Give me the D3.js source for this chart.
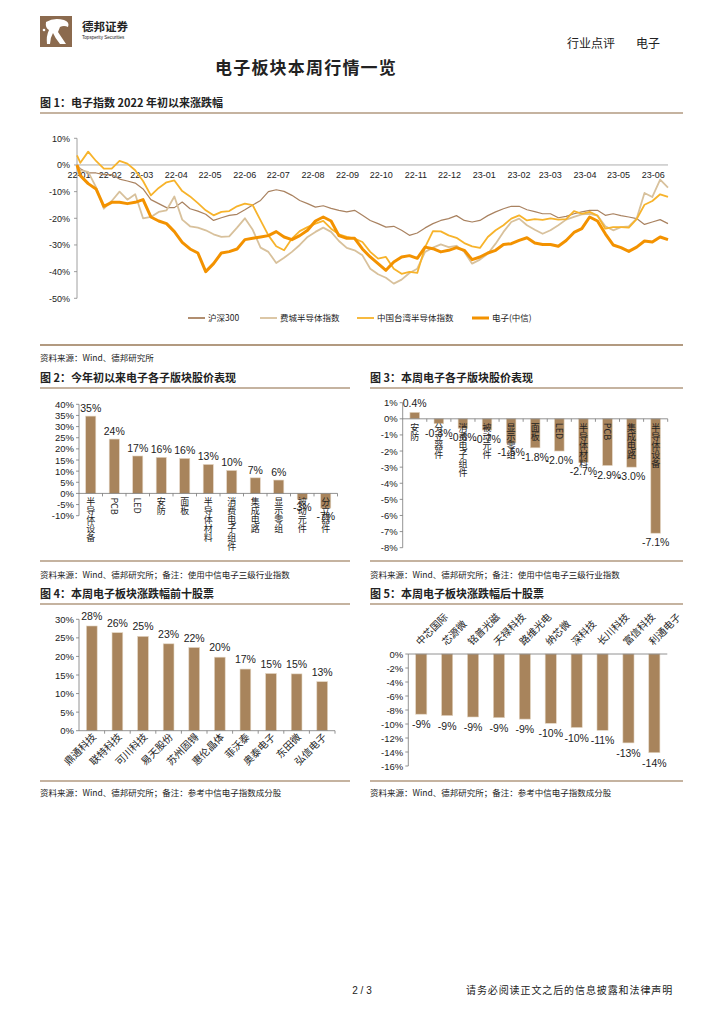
<!DOCTYPE html>
<html><head><meta charset="utf-8">
<script src="https://cdn.jsdelivr.net/npm/d3@7"></script>
<style>
body{margin:0;background:#fff;}
svg{display:block;}
text{font-family:"Liberation Sans",Arial,sans-serif;fill:#222;}
.cjk{font-family:"Noto Sans CJK SC","Noto Sans",sans-serif;}
</style></head><body>
<svg id="c" width="724" height="1024"></svg>
<script>
// ---------- DATA ----------
const lineDates = ["2022-01-04","2022-01-07","2022-01-14","2022-01-21","2022-01-28","2022-02-04","2022-02-11","2022-02-18","2022-02-25","2022-03-04","2022-03-11","2022-03-18","2022-03-25","2022-04-01","2022-04-08","2022-04-15","2022-04-22","2022-04-29","2022-05-06","2022-05-13","2022-05-20","2022-05-27","2022-06-03","2022-06-10","2022-06-17","2022-06-24","2022-07-01","2022-07-08","2022-07-15","2022-07-22","2022-07-29","2022-08-05","2022-08-12","2022-08-19","2022-08-26","2022-09-02","2022-09-09","2022-09-16","2022-09-23","2022-09-30","2022-10-07","2022-10-14","2022-10-21","2022-10-28","2022-11-04","2022-11-11","2022-11-18","2022-11-25","2022-12-02","2022-12-09","2022-12-16","2022-12-23","2022-12-30","2023-01-06","2023-01-13","2023-01-20","2023-01-27","2023-02-03","2023-02-10","2023-02-17","2023-02-24","2023-03-03","2023-03-10","2023-03-17","2023-03-24","2023-03-31","2023-04-07","2023-04-14","2023-04-21","2023-04-28","2023-05-05","2023-05-12","2023-05-19","2023-05-26","2023-06-02","2023-06-09","2023-06-16"];
const hs300 = [0,-1.4,-3,-3,-3.6,-3.6,-5.3,-6,-6.8,-9,-13,-14.5,-16,-16,-13.9,-16.4,-17.3,-18.5,-20.8,-19.8,-18.9,-18.5,-16.8,-15,-13.3,-10,-9.3,-9.9,-11.4,-13.3,-14.5,-15.8,-15.3,-16.3,-17,-17.6,-17,-18.9,-20.8,-22,-23.3,-23,-24.5,-26.4,-25.5,-23.6,-22,-20.8,-20.1,-19,-20.8,-21.4,-20.8,-19,-17.6,-16.4,-15.5,-15.5,-16.8,-17.5,-18.3,-18.3,-19.8,-19.3,-18.3,-17.6,-17,-17,-18.9,-18.3,-19,-19.5,-20.1,-22.3,-21.4,-20.5,-22];
const sox = [0,-2,-2.6,-8.3,-16.4,-13.5,-10,-13,-11,-20,-19.5,-17.6,-17,-11.8,-20.5,-23,-23.5,-24.5,-26,-27,-26.8,-23.5,-20,-24.3,-31,-32.6,-36.8,-34.8,-32.6,-30,-27,-25.1,-23.5,-25.1,-28.5,-31.1,-32,-33.9,-38.9,-41,-42.3,-44.5,-43,-40.5,-38.9,-32.6,-31,-29.8,-30.8,-30.3,-32.6,-37,-35.5,-33.3,-29.5,-25.1,-21.4,-20.1,-22.6,-24.3,-25.8,-24.5,-22.6,-20.5,-19.5,-18.5,-18.3,-19,-23,-24.5,-23.3,-23,-20.1,-10.5,-12,-5.5,-8.5];
const taiwanSemi = [3.6,0.8,5,1.5,-1.4,-1.4,1.5,0.5,-2,-6,-11.4,-8.6,-6.5,-5.8,-9.8,-11.8,-14.3,-17,-18.9,-17.6,-17.3,-15.5,-14.5,-15.1,-20.8,-26.4,-30.5,-32,-27.6,-24.8,-23.3,-22,-21,-23.9,-26,-27,-27.6,-28.9,-32.6,-35.1,-34.5,-38.9,-40.8,-40.1,-40.5,-30.8,-24.8,-24.9,-26.4,-27.3,-29.3,-30.5,-31.1,-27,-24.5,-22.6,-20.1,-18.9,-20.8,-20.3,-20.6,-20,-20.5,-20.3,-17.3,-18.3,-17.6,-19,-23.9,-23.3,-23.3,-23.5,-20.3,-14.9,-13.5,-11,-12];
const electronics = [0,-4,-7,-9,-15.5,-14,-14,-14.5,-14,-13,-19.5,-21,-22,-25,-29,-31.5,-33,-40,-37,-33,-32.5,-31.5,-28,-27.5,-27,-26.5,-25,-27,-28,-26.5,-24.5,-21,-19.5,-21,-26.5,-27.5,-27.5,-31.5,-34.5,-37,-39.5,-36.4,-34.5,-34,-35,-30.8,-31.4,-32.6,-32,-31,-32,-35.5,-34.5,-33,-32,-29.8,-29.5,-28.3,-27.3,-29.3,-29.8,-29.8,-30.5,-28.3,-25.3,-23.9,-19.5,-21,-25.8,-30,-31,-32.4,-30.8,-28.5,-28.9,-27,-28];
const seriesNames = ["沪深300","费城半导体指数","中国台湾半导体指数","电子(中信)"];
const fig1YTicks = [10,0,-10,-20,-30,-40,-50];

const fig2Cats = ["半导体设备","PCB","LED","安防","面板","半导体材料","消费电子组件","集成电路","显示零组","被动元件","分立器件"];
const fig2Vals = [34.7,24.4,16.8,16.2,15.7,13.0,10.3,7.0,6.0,-2.6,-6.6];
const fig2YTicks = [40,35,30,25,20,15,10,5,0,-5,-10];

const fig3Cats = ["安防","分立器件","消费电子组件","被动元件","显示零组","面板","LED","半导体材料","PCB","集成电路","半导体设备"];
const fig3Vals = [0.4,-0.3,-0.6,-0.7,-1.5,-1.8,-2.0,-2.7,-2.9,-3.0,-7.1];
const fig3YTicks = [1,0,-1,-2,-3,-4,-5,-6,-7,-8];

const fig4Names = ["鼎通科技","联特科技","可川科技","易天股份","苏州固锝","惠伦晶体","菲沃泰","奥泰电子","东田微","弘信电子"];
const fig4Vals = [28.2,26.4,25.4,23.4,22.4,19.8,16.6,15.4,15.3,13.2];
const fig4YTicks = [30,25,20,15,10,5,0];

const fig5Names = ["中芯国际","芯源微","铭普光磁","天禄科技","路维光电","纳芯微","深科技","长川科技","富信科技","利通电子"];
const fig5Vals = [-8.6,-8.8,-9.0,-9.1,-9.3,-9.9,-10.5,-10.9,-12.7,-14.1];
const fig5YTicks = [0,-2,-4,-6,-8,-10,-12,-14,-16];

// ---------- DRAW ----------
const svg = d3.select("#c");
const BROWN = "#8B6A4C", BAR = "#A8845C", LINEC = "#B29A80";
const defs = svg.append("defs");
const g1 = defs.append("linearGradient").attr("id","hg").attr("x1","0").attr("x2","1");
g1.append("stop").attr("offset","0").attr("stop-color","#C4AD94");
g1.append("stop").attr("offset","0.5").attr("stop-color","#A2825F");
g1.append("stop").attr("offset","1").attr("stop-color","#9A7A58");

// header
svg.append("rect").attr("x",40).attr("y",16).attr("width",32).attr("height",31).attr("fill","#8B6A4E");
svg.append("path").attr("d","M46,22 Q54,17 64,20 Q70,22 68,27 Q64,25 60,27 L58,32 Q62,38 66,44 L60,44 Q55,38 53,33 Q50,38 50,44 L47,44 Q46,36 49,30 Q45,28 46,22 Z").attr("fill","#fff");
svg.append("circle").attr("cx",44).attr("cy",30).attr("r",1.3).attr("fill","#fff");
svg.append("text").attr("class","cjk").attr("x",82).attr("y",31).attr("font-size",11.5).attr("font-weight","bold").attr("fill","#6E5A48").text("德邦证券");
svg.append("text").attr("x",82).attr("y",39).attr("font-size",4.6).attr("fill","#6E5A48").text("Topsperity Securities");
svg.append("text").attr("class","cjk").attr("x",567).attr("y",48).attr("font-size",12).attr("fill","#333").text("行业点评");
svg.append("text").attr("class","cjk").attr("x",636).attr("y",48).attr("font-size",12).attr("fill","#333").text("电子");
svg.append("line").attr("x1",40).attr("x2",686).attr("y1",54).attr("y2",54).attr("stroke","url(#hg)").attr("stroke-width",3);
svg.append("text").attr("class","cjk").attr("x",306).attr("y",74).attr("text-anchor","middle").attr("font-size",17).attr("font-weight","bold").attr("letter-spacing",1.2).attr("fill","#8B5E3C").text("电子板块本周行情一览");

function title(x,y,t){
  svg.append("text").attr("class","cjk").attr("x",x).attr("y",y).attr("font-size",11).attr("font-weight","bold").attr("fill",BROWN).text(t);
}
function hline(x1,x2,y,w){
  svg.append("line").attr("x1",x1).attr("x2",x2).attr("y1",y).attr("y2",y).attr("stroke",LINEC).attr("stroke-width",w||1.6);
}
function source(x,y,t){
  svg.append("text").attr("class","cjk").attr("x",x).attr("y",y).attr("font-size",8.5).attr("fill","#333").text(t);
}

// ---------- FIG 1 ----------
title(40,107,"图 1：电子指数 2022 年初以来涨跌幅");
hline(40,683,113);
const parse = d3.timeParse("%Y-%m-%d");
const dts = lineDates.map(parse);
const x1 = d3.scaleTime().domain([dts[0], dts[dts.length-1]]).range([77,668]);
const y1 = d3.scaleLinear().domain([-50,10]).range([298.3,138.3]);
const f1 = svg.append("g");
f1.append("line").attr("x1",77).attr("x2",77).attr("y1",y1(10)).attr("y2",y1(-50)).attr("stroke","#888").attr("stroke-width",0.8);
fig1YTicks.forEach(t=>{
  f1.append("line").attr("x1",74).attr("x2",77).attr("y1",y1(t)).attr("y2",y1(t)).attr("stroke","#888").attr("stroke-width",0.8);
  f1.append("text").attr("x",70).attr("y",y1(t)+3.3).attr("text-anchor","end").attr("font-size",9).text(t+"%");
});
f1.append("line").attr("x1",77).attr("x2",668).attr("y1",y1(0)).attr("y2",y1(0)).attr("stroke","#999").attr("stroke-width",0.8);
const months = d3.timeMonth.range(new Date(2022,0,1), new Date(2023,6,1));
const fmt = d3.timeFormat("%y-%m");
months.forEach(m=>{
  const d = m < dts[0] ? dts[0] : m;
  f1.append("text").attr("x",x1(d)+2).attr("y",178).attr("text-anchor","middle").attr("font-size",9).text(fmt(m));
});
const allSeries = [
  {vals:hs300, color:"#A98260", w:1.2},
  {vals:sox, color:"#D8C19C", w:1.8},
  {vals:taiwanSemi, color:"#F7B32B", w:1.8},
  {vals:electronics, color:"#F39200", w:3}
];
const lineGen = d3.line().x((d,i)=>x1(dts[i])).y(d=>y1(d)).curve(d3.curveLinear);
allSeries.forEach(s=>{
  f1.append("path").attr("d",lineGen(s.vals)).attr("fill","none").attr("stroke",s.color).attr("stroke-width",s.w).attr("stroke-linejoin","round");
});
// legend
const legX = [188,260,357,472];
allSeries.forEach((s,i)=>{
  f1.append("line").attr("x1",legX[i]).attr("x2",legX[i]+17).attr("y1",318).attr("y2",318).attr("stroke",s.color).attr("stroke-width",s.w===3?3:1.8);
  f1.append("text").attr("class","cjk").attr("x",legX[i]+20).attr("y",321).attr("font-size",8.5).attr("fill","#333").text(seriesNames[i]);
});
hline(40,683,345,2);
source(40,361,"资料来源：Wind、德邦研究所");

// ---------- generic bar chart ----------
function barChart(o){
  const g = svg.append("g");
  const x = d3.scaleBand().domain(o.cats).range([o.x0,o.x1]).paddingInner(o.pad).paddingOuter(o.pad/2);
  const y = d3.scaleLinear().domain(o.ydom).range(o.yrange);
  // y axis
  g.append("line").attr("x1",o.x0).attr("x2",o.x0).attr("y1",o.yrange[1]).attr("y2",o.yrange[0]).attr("stroke","#777").attr("stroke-width",0.8);
  o.yticks.forEach(t=>{
    g.append("line").attr("x1",o.x0-3).attr("x2",o.x0).attr("y1",y(t)).attr("y2",y(t)).attr("stroke","#777").attr("stroke-width",0.8);
    g.append("text").attr("x",o.x0-5).attr("y",y(t)+3.5).attr("text-anchor","end").attr("font-size",9.5).text(t+"%");
  });
  // bars
  o.cats.forEach((c,i)=>{
    const v = o.vals[i];
    g.append("rect").attr("x",x(c)).attr("width",x.bandwidth())
      .attr("y",y(Math.max(0,v))).attr("height",Math.abs(y(v)-y(0)))
      .attr("fill",BAR).attr("stroke","#E3D5C2").attr("stroke-width",0.6);
  });
  // zero axis
  g.append("line").attr("x1",o.x0).attr("x2",o.x1).attr("y1",y(0)).attr("y2",y(0)).attr("stroke","#777").attr("stroke-width",0.8);
  if(o.catTicks){
    o.cats.forEach((c,i)=>{
      const xx = o.x0 + x.step()*(i+1);
      g.append("line").attr("x1",xx).attr("x2",xx).attr("y1",y(0)).attr("y2",y(0)+o.catTicks).attr("stroke","#777").attr("stroke-width",0.8);
    });
  }
  // value labels
  o.cats.forEach((c,i)=>{
    const v = o.vals[i];
    const cx = x(c)+x.bandwidth()/2;
    const ty = v>=0 ? y(v)-o.labOff : y(v)+o.labOff+8;
    g.append("text").attr("x",cx).attr("y",ty).attr("text-anchor","middle").attr("font-size",o.labSize).text(o.fmt(v));
  });
  // category labels
  o.cats.forEach((c,i)=>{
    const cx = x(c)+x.bandwidth()/2;
    if(o.catMode==="vertical"){
      g.append("text").attr("class","cjk").attr("x",cx).attr("y",y(0)+4)
        .attr("writing-mode","tb").style("writing-mode","vertical-rl")
        .attr("font-size",9).attr("fill","#333").text(c);
    } else if(o.catMode==="below45"){
      g.append("text").attr("class","cjk").attr("transform",`translate(${cx+5},${y(0)+7}) rotate(-45)`)
        .attr("text-anchor","end").attr("font-size",10).attr("fill","#222").text(c);
    } else {
      g.append("text").attr("class","cjk").attr("transform",`translate(${cx-1},${y(0)-8}) rotate(-45)`)
        .attr("text-anchor","start").attr("font-size",10).attr("fill","#222").text(c);
    }
  });
}

// ---------- FIG 2 ----------
title(40,382,"图 2：今年初以来电子各子版块股价表现");
hline(40,350,388);
barChart({cats:fig2Cats, vals:fig2Vals, yticks:fig2YTicks, x0:79, x1:337.5, pad:0.57,
  ydom:[-10,40], yrange:[515.7,404.3], labOff:4, labSize:10.5, fmt:v=>Math.round(v)+"%",
  catMode:"vertical", catTicks:3});
hline(40,350,561);
source(40,578,"资料来源：Wind、德邦研究所；备注：使用中信电子三级行业指数");

// ---------- FIG 3 ----------
title(370,382,"图 3：本周电子各子版块股价表现");
hline(370,683,388);
barChart({cats:fig3Cats, vals:fig3Vals, yticks:fig3YTicks, x0:402.7, x1:667.7, pad:0.6,
  ydom:[-8,1], yrange:[547.7,402.7], labOff:5, labSize:10.5, fmt:v=>v.toFixed(1)+"%",
  catMode:"vertical", catTicks:3});
hline(370,683,561);
source(370,578,"资料来源：Wind、德邦研究所；备注：使用中信电子三级行业指数");

// ---------- FIG 4 ----------
title(40,598,"图 4：本周电子板块涨跌幅前十股票");
hline(40,350,604);
barChart({cats:fig4Names, vals:fig4Vals, yticks:fig4YTicks, x0:79, x1:335, pad:0.58,
  ydom:[0,30], yrange:[730.7,619.3], labOff:6, labSize:10.5, fmt:v=>Math.round(v)+"%",
  catMode:"below45", catTicks:3});
hline(40,350,781);
source(40,796,"资料来源：Wind、德邦研究所；备注：参考中信电子指数成分股");

// ---------- FIG 5 ----------
title(370,598,"图 5：本周电子板块涨跌幅后十股票");
hline(370,683,604);
barChart({cats:fig5Names, vals:fig5Vals, yticks:fig5YTicks, x0:408.3, x1:667.3, pad:0.57,
  ydom:[-16,0], yrange:[766,654], labOff:6, labSize:10.5, fmt:v=>Math.round(v)+"%",
  catMode:"above45", catTicks:0});
hline(370,683,781);
source(370,796,"资料来源：Wind、德邦研究所；备注：参考中信电子指数成分股");

// ---------- FOOTER ----------
const g2 = defs.append("linearGradient").attr("id","fg").attr("x1","0").attr("x2","1");
g2.append("stop").attr("offset","0").attr("stop-color","#C9B6A0");
g2.append("stop").attr("offset","1").attr("stop-color","#9A7A58");
svg.append("line").attr("x1",40).attr("x2",684).attr("y1",976).attr("y2",976).attr("stroke","url(#fg)").attr("stroke-width",2.5);
svg.append("text").attr("x",362).attr("y",994).attr("text-anchor","middle").attr("font-size",10).text("2 / 3");
svg.append("text").attr("class","cjk").attr("x",466).attr("y",994).attr("font-size",10).attr("letter-spacing",0.9).attr("fill","#222").text("请务必阅读正文之后的信息披露和法律声明");
</script>
</body></html>
